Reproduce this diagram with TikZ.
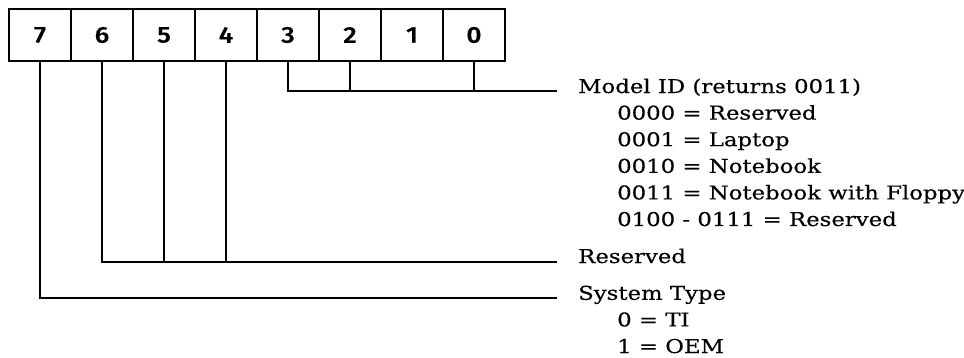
\documentclass[tikz,border=0pt]{standalone}
\usepackage{fontspec}
\setmainfont{DejaVu Serif}
\newfontfamily\bitfont{Fira Sans Medium}[FakeStretch=1.15,FakeBold=0.5]
\newfontfamily\lblfont{DejaVu Serif}[FakeStretch=1.2,FakeBold=0.4]
\usetikzlibrary{positioning}
\tikzset{
  bitbox/.style={
    draw,
    line width=1.8pt,
    minimum width=62pt,
    minimum height=52pt,
    inner sep=0pt,
    outer sep=0pt,
    font=\bitfont\fontsize{23}{23}\selectfont
  },
  bitline/.style={line width=1.2pt},
  fieldlbl/.style={
    anchor=base west,
    inner sep=0pt,
    align=left,
    font=\lblfont\fontsize{19}{26.6}\selectfont
  }
}

\begin{document}
\begin{tikzpicture}[x=1pt,y=-1pt]
    \useasboundingbox (0,0) rectangle (964,358);
    % register bits, 7 down to 0
    \node[bitbox] (b7) at (40,35) {7};
    \foreach \bit [remember=\bit as \prev (initially 7)] in {6,5,...,0}
      \node[bitbox,right=0pt of b\prev] (b\bit) {\bit};
    % line ends of the three fields
    \coordinate (modelend) at (557,91);
    \coordinate (resvend) at (557,262);
    \coordinate (sysend) at (557,298);
    % base of a multi-line label = its last line
    \node[fieldlbl] (modelid) at (578,226) {Model ID (returns 0011)\\
      \hspace*{39pt}0000 = Reserved\\
      \hspace*{39pt}0001 = Laptop\\
      \hspace*{39pt}0010 = Notebook\\
      \hspace*{39pt}0011 = Notebook with Floppy\\
      \hspace*{39pt}0100 - 0111 = Reserved};
    \node[fieldlbl] (resv) at (578,263) {Reserved};
    \node[fieldlbl] (systype) at (578,353) {System Type\\
      \hspace*{39pt}0 = TI\\
      \hspace*{39pt}1 = OEM};
    \draw[bitline] (b3.south) |- (modelend);
    \foreach \bit in {2,0}
      \draw[bitline] (b\bit.south) -- (b\bit.south |- modelend);
    \draw[bitline] (b6.south) |- (resvend);
    \foreach \bit in {5,4}
      \draw[bitline] (b\bit.south) -- (b\bit.south |- resvend);
    \draw[bitline] (b7.south) |- (sysend);
  \end{tikzpicture}
\end{document}
